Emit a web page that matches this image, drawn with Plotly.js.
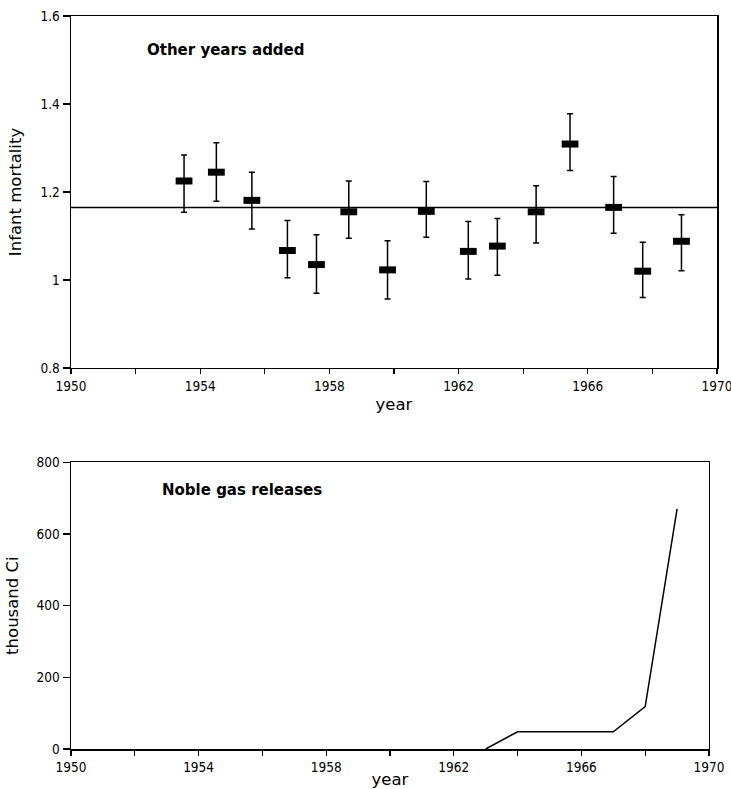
<!DOCTYPE html>
<html>
<head>
<meta charset="utf-8">
<script src="https://cdn.plot.ly/plotly-3.0.1.min.js"></script>
<style>html,body{margin:0;padding:0;background:#fff;}#chart{width:731px;height:789px;}</style>
</head>
<body>
<div id="chart"></div>
<script>
// ---- Data ----
const mortYears = [1953.5, 1954.5, 1955.6, 1956.7, 1957.6, 1958.6, 1959.8, 1961.0, 1962.3, 1963.2, 1964.4, 1965.45, 1966.8, 1967.7, 1968.9];
const mortality = [1.225, 1.245, 1.181, 1.067, 1.035, 1.155, 1.023, 1.156, 1.065, 1.077, 1.155, 1.309, 1.165, 1.020, 1.088];
const mortUpper = [1.284, 1.312, 1.245, 1.135, 1.103, 1.225, 1.089, 1.224, 1.133, 1.140, 1.214, 1.378, 1.235, 1.086, 1.148];
const mortLower = [1.154, 1.179, 1.116, 1.005, 0.970, 1.095, 0.957, 1.097, 1.002, 1.011, 1.084, 1.249, 1.106, 0.960, 1.021];

const refYears = [1950, 1970];
const refLevel = [1.165, 1.165];

const gasYears = [1963, 1964, 1965, 1966, 1967, 1968, 1969];
const gasRelease = [0, 48, 48, 48, 48, 118, 670];

const topTitle = "Other years added";
const bottomTitle = "Noble gas releases";

// ---- Styles ----
const tickFont = {family: "Liberation Sans Narrow, DejaVu Sans Condensed, Arial Narrow, sans-serif", size: 13.5, color: "#000"};
const titleFont = {family: "DejaVu Sans, Arial, sans-serif", size: 16.5, color: "#000"};
const labelFont = {family: "DejaVu Sans, Arial, sans-serif", size: 15, color: "#000", weight: "bold"};

const errPlus = mortUpper.map((u, i) => u - mortality[i]);
const errMinus = mortLower.map((l, i) => mortality[i] - l);

const traces = [
  {
    x: refYears, y: refLevel, xaxis: "x", yaxis: "y",
    mode: "lines", line: {color: "#000", width: 1.5}, hoverinfo: "skip"
  },
  {
    x: mortYears, y: mortality, xaxis: "x", yaxis: "y",
    mode: "markers",
    marker: {symbol: "line-ew", size: 12, color: "#000", line: {color: "#000", width: 7}},
    error_y: {type: "data", symmetric: false, array: errPlus, arrayminus: errMinus,
              color: "#000", thickness: 1.5, width: 3}
  },
  {
    x: gasYears, y: gasRelease, xaxis: "x2", yaxis: "y2",
    mode: "lines", line: {color: "#000", width: 1.5}
  }
];

const xCommon = {
  range: [1950, 1970], tick0: 1950, dtick: 4,
  ticks: "outside", ticklen: 5, tickwidth: 1.2, tickcolor: "#000",
  minor: {dtick: 2, tick0: 1950, ticks: "outside", ticklen: 5, tickwidth: 1.2, tickcolor: "#000", showgrid: false},
  showline: true, mirror: true, linecolor: "#000", linewidth: 1.5,
  showgrid: false, zeroline: false, tickfont: tickFont, automargin: false,
  ticklabeloverflow: "allow"
};
const yCommon = {
  ticks: "outside", ticklen: 7, tickwidth: 1.2, tickcolor: "#000",
  showline: true, mirror: true, linecolor: "#000", linewidth: 1.5,
  showgrid: false, zeroline: false, tickfont: tickFont, automargin: false,
  ticklabeloverflow: "allow"
};

const layout = {
  width: 731, height: 789,
  margin: {l: 71, r: 14, t: 16, b: 40},
  paper_bgcolor: "#fff", plot_bgcolor: "#fff",
  showlegend: false,
  xaxis: Object.assign({}, xCommon, {domain: [0, 1], anchor: "y",
    title: {text: "year", font: titleFont, standoff: 6}}),
  yaxis: Object.assign({}, yCommon, {domain: [0.5198, 1], anchor: "x", range: [0.8, 1.6], dtick: 0.2, tick0: 0.8,
    title: {text: "Infant mortality", font: titleFont, standoff: 14}}),
  xaxis2: Object.assign({}, xCommon, {domain: [0, 0.9876], anchor: "y2",
    title: {text: "year", font: titleFont, standoff: 10}}),
  yaxis2: Object.assign({}, yCommon, {domain: [0, 0.3911], anchor: "x2", range: [0, 800], dtick: 200, tick0: 0,
    title: {text: "thousand Ci", font: titleFont, standoff: 14}}),
  annotations: [
    {text: topTitle, xref: "x", yref: "y", x: 1954.8, y: 1.523, showarrow: false, xanchor: "center", yanchor: "middle", font: labelFont},
    {text: bottomTitle, xref: "x2", yref: "y2", x: 1955.36, y: 723, showarrow: false, xanchor: "center", yanchor: "middle", font: labelFont}
  ]
};

Plotly.newPlot("chart", traces, layout, {displayModeBar: false, staticPlot: true});
</script>
</body>
</html>
